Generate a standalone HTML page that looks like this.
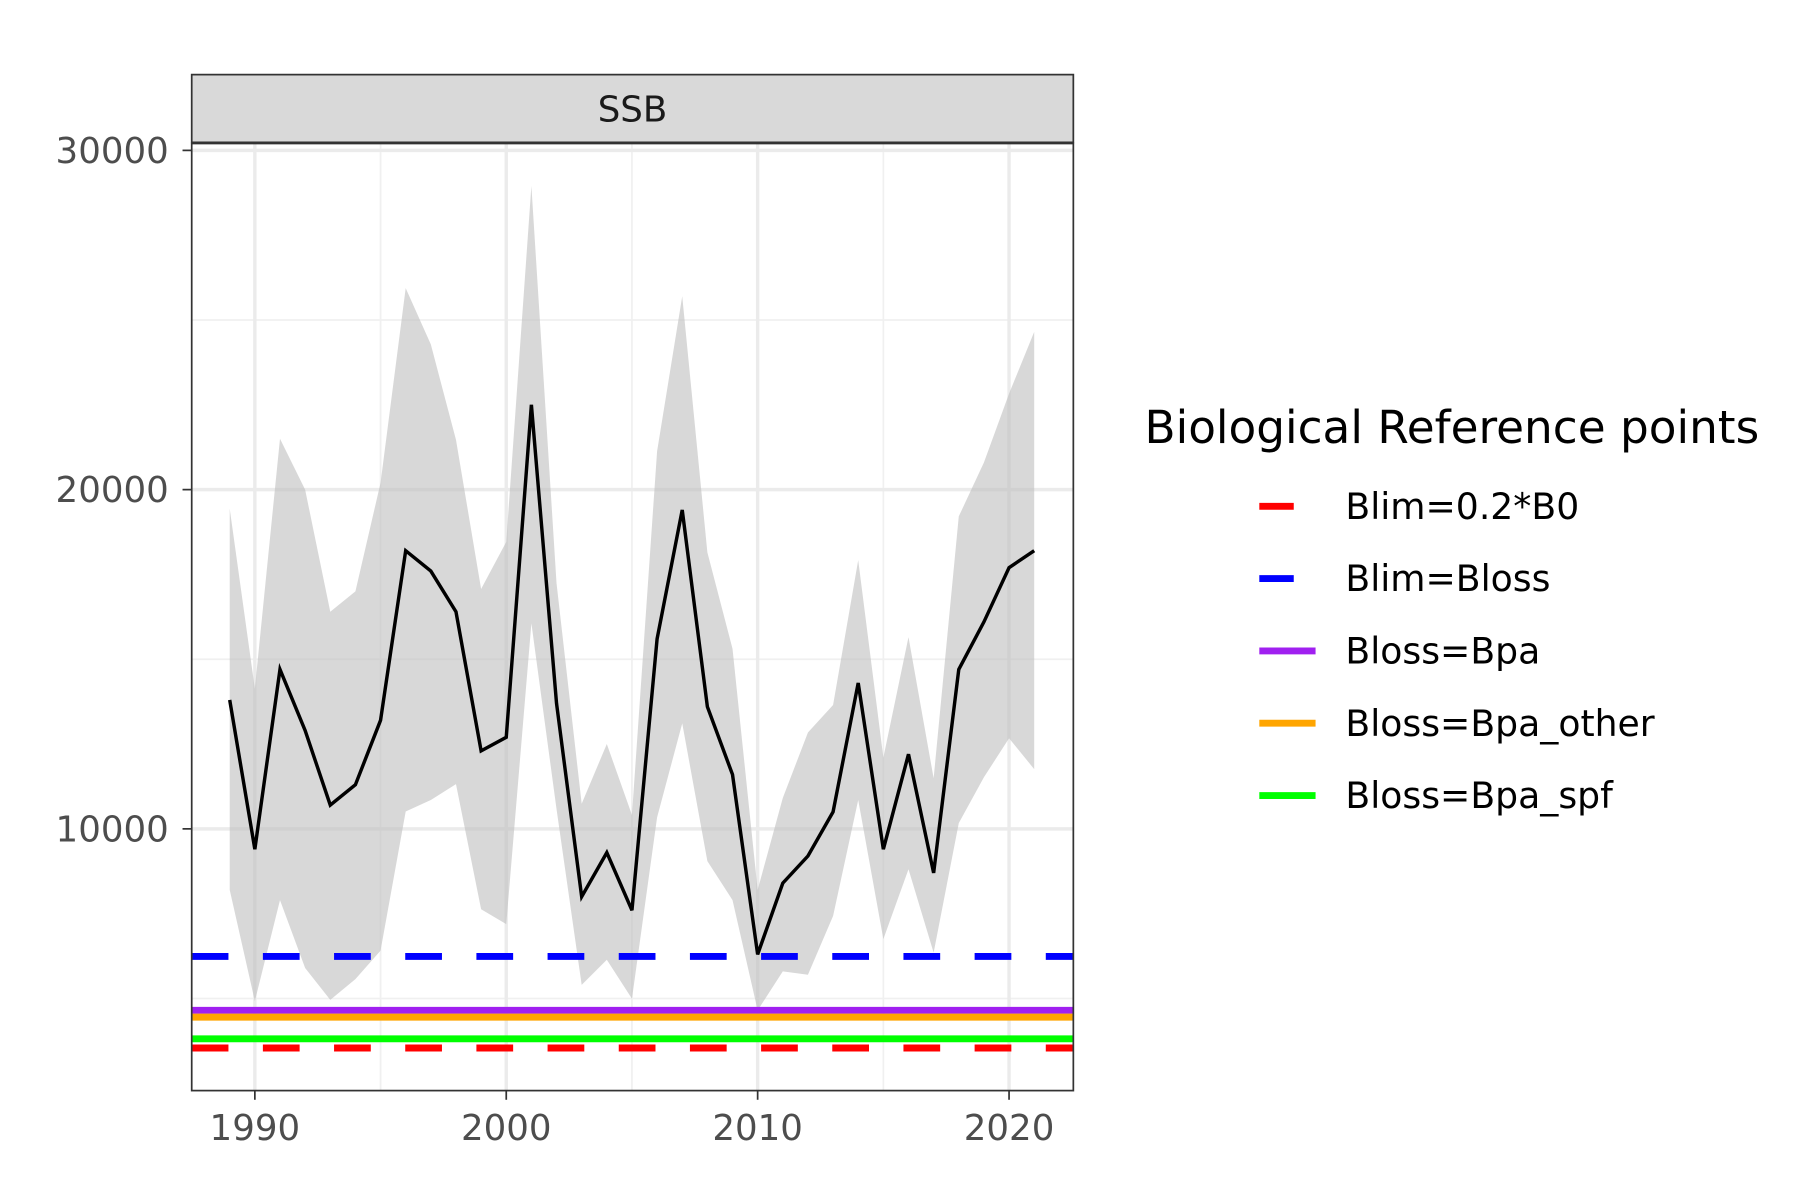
<!DOCTYPE html>
<html><head><meta charset="utf-8"><style>
html,body{margin:0;padding:0;background:#fff}
svg{display:block;font-family:"DejaVu Sans","Liberation Sans",sans-serif}
</style></head><body>
<svg id="chart" width="1800" height="1200" viewBox="0 0 1568 1045.3" preserveAspectRatio="none" xmlns="http://www.w3.org/2000/svg">
<rect width="1568" height="1046" fill="#fff"/>
<g id="grid"></g>
<g id="ribbon-g"></g>
<g id="line-g"></g>
<g id="ref-g"></g>
<rect x="167" y="125" width="768" height="825" fill="none" stroke="#333" stroke-width="1.5"/>
<rect x="167" y="65" width="768" height="59" fill="#d9d9d9" stroke="#333" stroke-width="1.5"/>
<text x="551" y="106" font-size="31" text-anchor="middle" fill="#1a1a1a">SSB</text>
<g id="axes"></g>
<g id="legend">
<text x="997" y="386" font-size="39.5" fill="#000">Biological Reference points</text>
</g>
</svg>
<script>
const years=[1989,1990,1991,1992,1993,1994,1995,1996,1997,1998,1999,2000,2001,2002,2003,2004,2005,2006,2007,2008,2009,2010,2011,2012,2013,2014,2015,2016,2017,2018,2019,2020,2021];
const ssb=[13800,9400,14700,12900,10700,11300,13200,18200,17600,16400,12300,12700,22500,13700,8000,9300,7600,15600,19400,13600,11600,6300,8400,9200,10500,14300,9400,12200,8700,14700,16100,17700,18200];
const upper=[19440,14130,21500,20000,16400,17000,20200,25940,24280,21470,17070,18460,28950,17240,10740,12500,10410,21130,25700,18150,15310,8200,10910,12840,13650,17920,12100,15650,11490,19210,20800,22830,24650];
const lower=[8200,4920,7900,5900,4960,5570,6410,10510,10850,11320,7630,7190,16060,10580,5400,6140,4990,10340,13110,9050,7900,4650,5800,5700,7430,10850,6750,8810,6350,10170,11520,12670,11760];
const refNames=["Blim=0.2*B0","Blim=Bloss","Bloss=Bpa","Bloss=Bpa_other","Bloss=Bpa_spf"];
const refValues=[3540,6240,4650,4450,3810];
const refColors=["#ff0000","#0000ff","#a020f0","#ffa500","#00ff00"];
const refDashed=[true,true,false,false,false];
const xTicks=[1990,2000,2010,2020];
const yTicks=[10000,20000,30000];
const xMinor=[1995,2005,2015];
const yMinor=[5000,15000,25000];

const NS="http://www.w3.org/2000/svg";
const X=v=>222+(v-1990)*21.9;
const Y=v=>1017.5-v*0.02955;
const L=167,R=935,T=125,B=950;
function mk(tag,attrs,parent){const e=document.createElementNS(NS,tag);for(const k in attrs)e.setAttribute(k,attrs[k]);parent.appendChild(e);return e;}
const grid=document.getElementById('grid');
mk('rect',{x:L,y:T,width:R-L,height:B-T,fill:'#fff'},grid);
xMinor.forEach(v=>{const e=mk('line',{x1:X(v),x2:X(v),y1:T,y2:B,stroke:'#f0f0f0','stroke-width':1.5},grid);

});
yMinor.forEach(v=>{const e=mk('line',{x1:L,x2:R,y1:Y(v),y2:Y(v),stroke:'#f0f0f0','stroke-width':1.5},grid);

});
xTicks.forEach(v=>{const e=mk('line',{x1:X(v),x2:X(v),y1:T,y2:B,stroke:'#ebebeb','stroke-width':3},grid);

});
yTicks.forEach(v=>{const e=mk('line',{x1:L,x2:R,y1:Y(v),y2:Y(v),stroke:'#ebebeb','stroke-width':3},grid);

});
let pts=years.map((y,i)=>X(y)+','+Y(upper[i]));
for(let i=years.length-1;i>=0;i--)pts.push(X(years[i])+','+Y(lower[i]));
const rib=mk('polygon',{points:pts.join(' '),fill:'#bebebe','fill-opacity':0.6},document.getElementById('ribbon-g'));


const ln=mk('polyline',{points:years.map((y,i)=>X(y)+','+Y(ssb[i])).join(' '),fill:'none',stroke:'#000','stroke-width':3},document.getElementById('line-g'));


const refG=document.getElementById('ref-g');
const order=[2,3,4,0,1];
order.forEach(i=>{const a={x1:L,x2:R,y1:Y(refValues[i]),y2:Y(refValues[i]),stroke:refColors[i],'stroke-width':6};
if(refDashed[i])a['stroke-dasharray']='32 30';
const e=mk('line',a,refG);

});
const ax=document.getElementById('axes');
xTicks.forEach(v=>{mk('line',{x1:X(v),x2:X(v),y1:B,y2:B+8,stroke:'#333','stroke-width':1.5},ax);
const t=mk('text',{x:X(v),y:B+43,'font-size':31,'text-anchor':'middle',fill:'#4d4d4d'},ax);t.textContent=v;

});
yTicks.forEach(v=>{mk('line',{x1:L-8,x2:L,y1:Y(v),y2:Y(v),stroke:'#333','stroke-width':1.5},ax);
const t=mk('text',{x:L-20,y:Y(v)+11,'font-size':31,'text-anchor':'end',fill:'#4d4d4d'},ax);t.textContent=v;

});
const lg=document.getElementById('legend');
refNames.forEach((n,i)=>{const y=441+i*63;
const a={x1:1097,x2:1146,y1:y,y2:y,stroke:refColors[i],'stroke-width':6};
if(refDashed[i])a['stroke-dasharray']='30 19';
const k=mk('line',a,lg);


const t=mk('text',{x:1172,y:y+11,'font-size':31.5,fill:'#000'},lg);t.textContent=n;

});
</script>
</body></html>
